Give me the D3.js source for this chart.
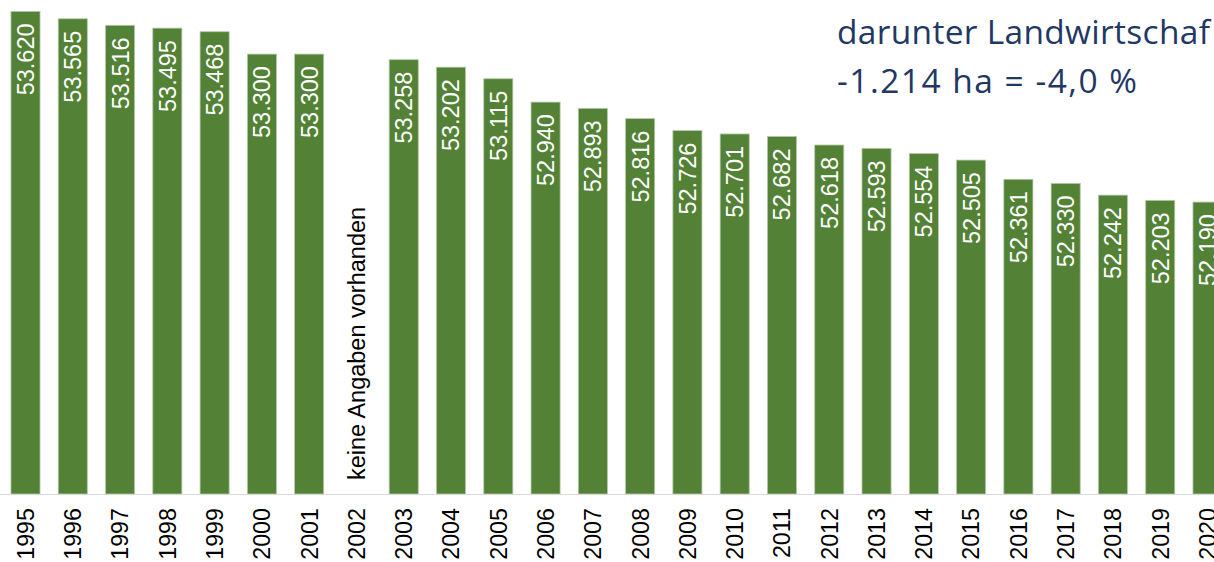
<!DOCTYPE html>
<html>
<head>
<meta charset="utf-8">
<script src="https://cdn.jsdelivr.net/npm/d3@7"></script>
<style>
  html, body { margin: 0; padding: 0; background: #fff; }
  svg { display: block; }
</style>
</head>
<body>
<div id="chart"></div>
<script>
// data (ha), 2002 has no value
var years = ["1995", "1996", "1997", "1998", "1999", "2000", "2001", "2002", "2003",
  "2004", "2005", "2006", "2007", "2008", "2009", "2010", "2011", "2012", "2013",
  "2014", "2015", "2016", "2017", "2018", "2019", "2020"];
var values = [53620, 53565, 53516, 53495, 53468, 53300, 53300, null, 53258,
  53202, 53115, 52940, 52893, 52816, 52726, 52701, 52682, 52618, 52593,
  52554, 52505, 52361, 52330, 52242, 52203, 52190];
var missingLabel = "keine Angaben vorhanden";
var titleLines = ["darunter Landwirtschaf", "-1.214 ha = -4,0 %"];
var titleWidths = [373, 300];

var svgWidth = 1214;
var svgHeight = 562;
var baseY = 494;

var data = years.map(function(y, i) { return { year: y, value: values[i] }; });

var svg = d3.select("#chart")
  .append("svg")
  .attr("width", svgWidth)
  .attr("height", svgHeight);

var x = d3.scaleBand()
  .domain(years)
  .range([1.5, 1231.5])
  .paddingInner(0.385)
  .paddingOuter(0.2);

var y = d3.scaleLinear()
  .domain([50000, 53700])
  .range([baseY, baseY - 3.7 * 133.3]);

var fmt = function(v) { return d3.format(",")(v).replace(",", "."); };

// bars
svg.selectAll("rect.bar")
  .data(data.filter(function(d) { return d.value != null; }))
  .enter()
  .append("rect")
  .attr("class", "bar")
  .attr("x", d => x(d.year))
  .attr("y", d => y(d.value))
  .attr("width", x.bandwidth())
  .attr("height", d => baseY - y(d.value))
  .attr("fill", "#538135")
  .attr("stroke", "#b5c9a9")
  .attr("stroke-width", 0.8);

// baseline
svg.append("line")
  .attr("x1", 0)
  .attr("x2", svgWidth)
  .attr("y1", baseY + 0.5)
  .attr("y2", baseY + 0.5)
  .attr("stroke", "#d9d9d9")
  .attr("stroke-width", 1.2);

// value labels inside bars
svg.selectAll("text.val")
  .data(data.filter(function(d) { return d.value != null; }))
  .enter()
  .append("text")
  .attr("class", "val")
  .attr("transform", d => `translate(${x(d.year) + x.bandwidth() / 2}, ${y(d.value) + 12}) rotate(-90)`)
  .attr("text-anchor", "end")
  .attr("dy", "0.36em")
  .attr("fill", "#ffffff")
  .attr("font-family", "Liberation Sans, Arial, sans-serif")
  .attr("font-size", 23.5)
  .text(d => fmt(d.value));

// missing year note
var missing = data.filter(function(d) { return d.value == null; });
svg.selectAll("text.miss")
  .data(missing)
  .enter()
  .append("text")
  .attr("class", "miss")
  .attr("transform", d => `translate(${x(d.year) + x.bandwidth() / 2}, ${baseY - 14}) rotate(-90)`)
  .attr("text-anchor", "start")
  .attr("dy", "0.36em")
  .attr("fill", "#000000")
  .attr("font-family", "Liberation Sans, Arial, sans-serif")
  .attr("font-size", 23.5)
  .text(missingLabel);

// x axis labels
svg.selectAll("text.year")
  .data(years)
  .enter()
  .append("text")
  .attr("class", "year")
  .attr("transform", d => `translate(${x(d) + x.bandwidth() / 2}, ${baseY + 14}) rotate(-90)`)
  .attr("text-anchor", "end")
  .attr("dy", "0.36em")
  .attr("fill", "#000000")
  .attr("font-family", "Liberation Sans, Arial, sans-serif")
  .attr("font-size", 23.3)
  .text(d => d);

// title top right
svg.selectAll("text.title")
  .data(titleLines)
  .enter()
  .append("text")
  .attr("class", "title")
  .attr("x", 837)
  .attr("y", (d, i) => 44 + i * 48.5)
  .attr("fill", "#1f3864")
  .attr("font-family", "Open Sans, Noto Sans, sans-serif")
  .attr("font-size", 33.5)
  .attr("textLength", (d, i) => titleWidths[i])
  .attr("lengthAdjust", "spacing")
  .text(d => d);
</script>
</body>
</html>
